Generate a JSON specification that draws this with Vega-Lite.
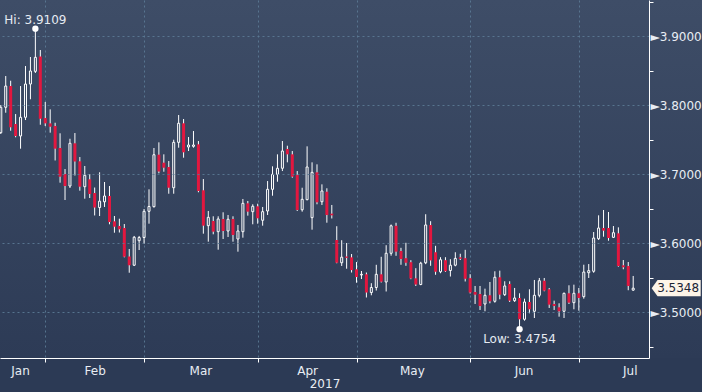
{
  "$schema": "https://vega.github.io/schema/vega-lite/v6.json",
  "width": 649,
  "height": 358,
  "autosize": "none",
  "padding": {"left": 0, "top": 0, "right": 53, "bottom": 34},
  "background": "#2c3a55",
  "config": {
    "font": "DejaVu Sans",
    "view": {"stroke": null, "fill": {"gradient": "linear", "x1": 0, "y1": 0, "x2": 0, "y2": 1, "stops": [{"offset": 0, "color": "#3e4d67"}, {"offset": 1, "color": "#2d3b56"}]}}
  },
  "datasets": {
    "ohlc": [
      {"i":0,"o":3.7602,"h":3.8003,"l":3.7583,"c":3.7970},
      {"i":1,"o":3.7970,"h":3.8423,"l":3.7891,"c":3.8278},
      {"i":2,"o":3.8278,"h":3.8355,"l":3.7630,"c":3.7680},
      {"i":3,"o":3.7728,"h":3.7872,"l":3.7535,"c":3.7554},
      {"i":4,"o":3.7554,"h":3.8278,"l":3.7370,"c":3.7825},
      {"i":5,"o":3.7825,"h":3.8568,"l":3.7785,"c":3.8307},
      {"i":6,"o":3.8307,"h":3.8699,"l":3.8086,"c":3.8496},
      {"i":7,"o":3.8491,"h":3.9109,"l":3.8467,"c":3.8694},
      {"i":8,"o":3.8706,"h":3.8800,"l":3.7717,"c":3.7804},
      {"i":9,"o":3.7814,"h":3.8046,"l":3.7699,"c":3.7737},
      {"i":10,"o":3.7737,"h":3.7940,"l":3.7602,"c":3.7688},
      {"i":11,"o":3.7699,"h":3.7746,"l":3.7199,"c":3.7370},
      {"i":12,"o":3.7380,"h":3.7593,"l":3.6877,"c":3.6964},
      {"i":13,"o":3.7003,"h":3.7075,"l":3.6626,"c":3.6829},
      {"i":14,"o":3.6829,"h":3.7514,"l":3.6800,"c":3.7448},
      {"i":15,"o":3.7448,"h":3.7597,"l":3.6981,"c":3.7184},
      {"i":16,"o":3.7187,"h":3.7249,"l":3.6761,"c":3.6819},
      {"i":17,"o":3.6819,"h":3.7119,"l":3.6645,"c":3.6984},
      {"i":18,"o":3.6926,"h":3.7003,"l":3.6655,"c":3.6713},
      {"i":19,"o":3.6727,"h":3.6807,"l":3.6402,"c":3.6517},
      {"i":20,"o":3.6517,"h":3.7028,"l":3.6394,"c":3.6609},
      {"i":21,"o":3.6600,"h":3.6887,"l":3.6525,"c":3.6684},
      {"i":22,"o":3.6684,"h":3.6829,"l":3.6274,"c":3.6307},
      {"i":23,"o":3.6317,"h":3.6394,"l":3.6152,"c":3.6239},
      {"i":24,"o":3.6249,"h":3.6355,"l":3.6155,"c":3.6201},
      {"i":25,"o":3.6220,"h":3.6278,"l":3.5795,"c":3.5804},
      {"i":26,"o":3.5807,"h":3.5916,"l":3.5572,"c":3.5681},
      {"i":27,"o":3.5681,"h":3.6105,"l":3.5669,"c":3.6086},
      {"i":28,"o":3.6036,"h":3.6105,"l":3.5901,"c":3.6082},
      {"i":29,"o":3.6082,"h":3.6496,"l":3.5988,"c":3.6462},
      {"i":30,"o":3.6462,"h":3.6781,"l":3.6283,"c":3.6532},
      {"i":31,"o":3.6529,"h":3.7380,"l":3.6517,"c":3.7282},
      {"i":32,"o":3.7283,"h":3.7462,"l":3.7013,"c":3.7039},
      {"i":33,"o":3.7167,"h":3.7288,"l":3.7036,"c":3.7094},
      {"i":34,"o":3.7104,"h":3.7191,"l":3.6717,"c":3.6804},
      {"i":35,"o":3.6804,"h":3.7500,"l":3.6717,"c":3.7462},
      {"i":36,"o":3.7462,"h":3.7858,"l":3.7384,"c":3.7738},
      {"i":37,"o":3.7738,"h":3.7800,"l":3.7239,"c":3.7317},
      {"i":38,"o":3.7394,"h":3.7539,"l":3.7336,"c":3.7423},
      {"i":39,"o":3.7404,"h":3.7626,"l":3.7384,"c":3.7423},
      {"i":40,"o":3.7433,"h":3.7481,"l":3.6738,"c":3.6757},
      {"i":41,"o":3.6767,"h":3.6930,"l":3.6138,"c":3.6254},
      {"i":42,"o":3.6254,"h":3.6467,"l":3.6022,"c":3.6375},
      {"i":43,"o":3.6322,"h":3.6390,"l":3.6129,"c":3.6167},
      {"i":44,"o":3.6167,"h":3.6390,"l":3.5906,"c":3.6351},
      {"i":45,"o":3.6351,"h":3.6448,"l":3.6061,"c":3.6177},
      {"i":46,"o":3.6177,"h":3.6409,"l":3.6090,"c":3.6347},
      {"i":47,"o":3.6351,"h":3.6390,"l":3.6022,"c":3.6119},
      {"i":48,"o":3.6061,"h":3.6264,"l":3.5877,"c":3.6177},
      {"i":49,"o":3.6167,"h":3.6641,"l":3.6080,"c":3.6578},
      {"i":50,"o":3.6578,"h":3.6612,"l":3.6399,"c":3.6457},
      {"i":51,"o":3.6457,"h":3.6564,"l":3.6274,"c":3.6535},
      {"i":52,"o":3.6535,"h":3.6572,"l":3.6283,"c":3.6361},
      {"i":53,"o":3.6332,"h":3.6525,"l":3.6254,"c":3.6457},
      {"i":54,"o":3.6467,"h":3.6901,"l":3.6409,"c":3.6781},
      {"i":55,"o":3.6781,"h":3.7114,"l":3.6688,"c":3.6998},
      {"i":56,"o":3.6998,"h":3.7288,"l":3.6891,"c":3.7086},
      {"i":57,"o":3.7086,"h":3.7481,"l":3.7046,"c":3.7336},
      {"i":58,"o":3.7365,"h":3.7413,"l":3.7172,"c":3.7288},
      {"i":59,"o":3.7288,"h":3.7336,"l":3.6949,"c":3.6964},
      {"i":60,"o":3.6988,"h":3.7046,"l":3.6467,"c":3.6481},
      {"i":61,"o":3.6485,"h":3.6804,"l":3.6457,"c":3.6636},
      {"i":62,"o":3.6631,"h":3.7404,"l":3.6622,"c":3.7104},
      {"i":63,"o":3.6370,"h":3.7172,"l":3.6196,"c":3.7027},
      {"i":64,"o":3.7027,"h":3.7143,"l":3.6564,"c":3.6593},
      {"i":65,"o":3.6601,"h":3.6853,"l":3.6554,"c":3.6757},
      {"i":66,"o":3.6746,"h":3.6796,"l":3.6297,"c":3.6409},
      {"i":67,"o":3.6428,"h":3.6554,"l":3.6358,"c":3.6404},
      {"i":68,"o":3.6046,"h":3.6246,"l":3.5709,"c":3.5717},
      {"i":69,"o":3.5717,"h":3.6043,"l":3.5670,"c":3.5797},
      {"i":70,"o":3.5807,"h":3.6003,"l":3.5630,"c":3.5788},
      {"i":71,"o":3.5795,"h":3.5843,"l":3.5575,"c":3.5611},
      {"i":72,"o":3.5622,"h":3.5727,"l":3.5427,"c":3.5510},
      {"i":73,"o":3.5539,"h":3.5597,"l":3.5481,"c":3.5549},
      {"i":74,"o":3.5549,"h":3.5575,"l":3.5213,"c":3.5285},
      {"i":75,"o":3.5285,"h":3.5420,"l":3.5245,"c":3.5358},
      {"i":76,"o":3.5358,"h":3.5687,"l":3.5314,"c":3.5549},
      {"i":77,"o":3.5549,"h":3.5803,"l":3.5430,"c":3.5442},
      {"i":78,"o":3.5438,"h":3.5971,"l":3.5300,"c":3.5854},
      {"i":79,"o":3.5854,"h":3.6271,"l":3.5819,"c":3.6252},
      {"i":80,"o":3.6252,"h":3.6296,"l":3.5817,"c":3.5877},
      {"i":81,"o":3.5887,"h":3.5933,"l":3.5687,"c":3.5771},
      {"i":82,"o":3.5783,"h":3.6006,"l":3.5672,"c":3.5716},
      {"i":83,"o":3.5725,"h":3.5754,"l":3.5478,"c":3.5489},
      {"i":84,"o":3.5491,"h":3.5638,"l":3.5380,"c":3.5401},
      {"i":85,"o":3.5401,"h":3.5730,"l":3.5391,"c":3.5710},
      {"i":86,"o":3.5716,"h":3.6420,"l":3.5696,"c":3.6264},
      {"i":87,"o":3.6263,"h":3.6319,"l":3.5672,"c":3.5750},
      {"i":88,"o":3.5869,"h":3.5962,"l":3.5542,"c":3.5586},
      {"i":89,"o":3.5586,"h":3.5797,"l":3.5565,"c":3.5760},
      {"i":90,"o":3.5754,"h":3.5797,"l":3.5583,"c":3.5594},
      {"i":91,"o":3.5604,"h":3.5768,"l":3.5517,"c":3.5681},
      {"i":92,"o":3.5681,"h":3.5869,"l":3.5665,"c":3.5780},
      {"i":93,"o":3.5795,"h":3.5847,"l":3.5756,"c":3.5774},
      {"i":94,"o":3.5783,"h":3.5904,"l":3.5445,"c":3.5484},
      {"i":95,"o":3.5493,"h":3.5551,"l":3.5271,"c":3.5285},
      {"i":96,"o":3.5293,"h":3.5380,"l":3.5119,"c":3.5254},
      {"i":97,"o":3.5264,"h":3.5380,"l":3.5032,"c":3.5090},
      {"i":98,"o":3.5119,"h":3.5341,"l":3.5013,"c":3.5245},
      {"i":99,"o":3.5245,"h":3.5438,"l":3.5129,"c":3.5158},
      {"i":100,"o":3.5158,"h":3.5593,"l":3.5138,"c":3.5506},
      {"i":101,"o":3.5506,"h":3.5602,"l":3.5187,"c":3.5254},
      {"i":102,"o":3.5254,"h":3.5448,"l":3.5235,"c":3.5380},
      {"i":103,"o":3.5409,"h":3.5448,"l":3.5148,"c":3.5167},
      {"i":104,"o":3.5167,"h":3.5351,"l":3.5148,"c":3.5206},
      {"i":105,"o":3.5206,"h":3.5274,"l":3.4754,"c":3.4897},
      {"i":106,"o":3.4897,"h":3.5196,"l":3.4877,"c":3.5148},
      {"i":107,"o":3.5148,"h":3.5332,"l":3.4984,"c":3.5042},
      {"i":108,"o":3.5013,"h":3.5467,"l":3.4916,"c":3.5245},
      {"i":109,"o":3.5245,"h":3.5496,"l":3.5216,"c":3.5456},
      {"i":110,"o":3.5456,"h":3.5496,"l":3.5303,"c":3.5312},
      {"i":111,"o":3.5332,"h":3.5351,"l":3.5061,"c":3.5109},
      {"i":112,"o":3.5119,"h":3.5167,"l":3.5032,"c":3.5090},
      {"i":113,"o":3.5071,"h":3.5129,"l":3.4935,"c":3.5013},
      {"i":114,"o":3.5013,"h":3.5283,"l":3.4916,"c":3.5274},
      {"i":115,"o":3.5274,"h":3.5390,"l":3.5119,"c":3.5138},
      {"i":116,"o":3.5138,"h":3.5399,"l":3.5042,"c":3.5274},
      {"i":117,"o":3.5274,"h":3.5351,"l":3.5022,"c":3.5206},
      {"i":118,"o":3.5225,"h":3.5688,"l":3.5196,"c":3.5582},
      {"i":119,"o":3.5572,"h":3.5698,"l":3.5496,"c":3.5602},
      {"i":120,"o":3.5593,"h":3.6162,"l":3.5572,"c":3.6075},
      {"i":121,"o":3.6065,"h":3.6404,"l":3.6046,"c":3.6220},
      {"i":122,"o":3.6220,"h":3.6481,"l":3.6094,"c":3.6181},
      {"i":123,"o":3.6220,"h":3.6452,"l":3.6036,"c":3.6075},
      {"i":124,"o":3.6085,"h":3.6249,"l":3.6075,"c":3.6152},
      {"i":125,"o":3.6143,"h":3.6230,"l":3.5659,"c":3.5669},
      {"i":126,"o":3.5680,"h":3.5756,"l":3.5622,"c":3.5651},
      {"i":127,"o":3.5669,"h":3.5727,"l":3.5318,"c":3.5380},
      {"i":128,"o":3.5320,"h":3.5525,"l":3.5310,"c":3.5348}
    ],
    "extremes": [
      {"i": 7, "v": 3.9109, "ty": 3.9235, "label": "Hi: 3.9109"},
      {"i": 105, "v": 3.4754, "ty": 3.4607, "label": "Low: 3.4754"}
    ],
    "last": [
      {"i": 136.7, "ti": 137.1, "v": 3.5348, "label": "3.5348"}
    ]
  },
  "layer": [
    {
      "data": {"values": [{}]},
      "mark": {"type": "rect", "color": {"gradient": "linear", "x1": 0, "y1": 0, "x2": 0, "y2": 1, "stops": [{"offset": 0, "color": "#3e4d67"}, {"offset": 1, "color": "#2d3b56"}]}},
      "encoding": {
        "x": {
          "datum": 131.2, "type": "quantitative",
          "scale": {"domain": [-0.16, 131.2], "nice": false, "zero": false, "padding": 0},
          "axis": {
            "orient": "bottom",
            "title": "2017",
            "titleColor": "#e8edf3",
            "titleFontWeight": "normal",
            "titleFontSize": 12,
            "titlePadding": 2,
            "tickCount": 40,
            "values": [3.9, 9, 19, 29, 40.4, 52, 62, 72, 83.2, 95, 105.8, 117, 127.3],
            "labelExpr": "datum.value == 3.9 ? 'Jan' : datum.value == 19 ? 'Feb' : datum.value == 40.4 ? 'Mar' : datum.value == 62 ? 'Apr' : datum.value == 83.2 ? 'May' : datum.value == 105.8 ? 'Jun' : datum.value == 127.3 ? 'Jul' : ''",
            "labelColor": "#e8edf3",
            "labelFontSize": 12,
            "labelPadding": 3,
            "labelOverlap": false,
            "labelFlush": false,
            "domainColor": "#ffffff",
            "domainWidth": 1,
            "tickColor": "#ffffff",
            "tickSize": 4,
            "tickOpacity": {"condition": {"test": "indexof([9,29,52,72,95,117], datum.value) >= 0", "value": 1}, "value": 0},
            "grid": true,
            "gridColor": "#5b7a95",
            "gridDash": [2, 3],
            "gridWidth": 1,
            "gridOpacity": {"condition": {"test": "indexof([9,29,52,72,95,117], datum.value) >= 0", "value": 0.9}, "value": 0}
          }
        },
        "x2": {"datum": 142},
        "y": {
          "datum": 3.9525, "type": "quantitative",
          "scale": {"domain": [3.4336, 3.9525], "nice": false, "zero": false, "padding": 0},
          "axis": {
            "orient": "right",
            "title": null,
            "zindex": 1,
            "tickCount": 40,
            "values": [3.45, 3.5, 3.55, 3.6, 3.65, 3.7, 3.75, 3.8, 3.85, 3.9, 3.95],
            "labelExpr": "indexof([3.5, 3.6, 3.7, 3.8, 3.9], datum.value) >= 0 ? '►' + format(datum.value, '.4f') : ''",
            "labelColor": "#e8edf3",
            "labelFontSize": 12,
            "labelPadding": -3,
            "labelOverlap": false,
            "labelFlush": false,
            "domainColor": "#ffffff",
            "domainWidth": 1,
            "tickColor": "#ffffff",
            "tickSize": 4,
            "tickOpacity": {"condition": {"test": "indexof([3.5, 3.6, 3.7, 3.8, 3.9], datum.value) >= 0", "value": 0}, "value": 1},
            "grid": true,
            "gridColor": "#5b7a95",
            "gridDash": [2, 3],
            "gridWidth": 1,
            "gridOpacity": {"condition": {"test": "indexof([3.5, 3.6, 3.7, 3.8, 3.9], datum.value) >= 0", "value": 0.9}, "value": 0}
          }
        },
        "y2": {"datum": 3.4336}
      }
    },
    {
      "data": {"name": "ohlc"},
      "transform": [{"filter": "datum.c >= datum.o"}],
      "mark": {"type": "rule", "color": "#ffffff", "strokeWidth": 1},
      "encoding": {
        "x": {"field": "i", "type": "quantitative", "scale": {"domain": [-0.16, 131.2], "nice": false, "zero": false, "padding": 0}},
        "y": {"field": "h", "type": "quantitative", "title": null, "scale": {"domain": [3.4336, 3.9525], "nice": false, "zero": false, "padding": 0}},
        "y2": {"field": "c"}
      }
    },
    {
      "data": {"name": "ohlc"},
      "transform": [{"filter": "datum.c >= datum.o"}],
      "mark": {"type": "rule", "color": "#ffffff", "strokeWidth": 1},
      "encoding": {
        "x": {"field": "i", "type": "quantitative", "scale": {"domain": [-0.16, 131.2], "nice": false, "zero": false, "padding": 0}},
        "y": {"field": "o", "type": "quantitative", "title": null, "scale": {"domain": [3.4336, 3.9525], "nice": false, "zero": false, "padding": 0}},
        "y2": {"field": "l"}
      }
    },
    {
      "data": {"name": "ohlc"},
      "transform": [{"filter": "datum.c < datum.o"}],
      "mark": {"type": "rule", "color": "#ffffff", "strokeWidth": 1},
      "encoding": {
        "x": {"field": "i", "type": "quantitative", "scale": {"domain": [-0.16, 131.2], "nice": false, "zero": false, "padding": 0}},
        "y": {"field": "h", "type": "quantitative", "title": null, "scale": {"domain": [3.4336, 3.9525], "nice": false, "zero": false, "padding": 0}},
        "y2": {"field": "l"}
      }
    },
    {
      "data": {"name": "ohlc"},
      "transform": [{"filter": "datum.c >= datum.o"}],
      "mark": {"type": "bar", "width": 2, "fill": "#34435e", "fillOpacity": 0, "stroke": "#ffffff", "strokeWidth": 1},
      "encoding": {
        "x": {"field": "i", "type": "quantitative", "scale": {"domain": [-0.16, 131.2], "nice": false, "zero": false, "padding": 0}},
        "y": {"field": "o", "type": "quantitative", "title": null, "scale": {"domain": [3.4336, 3.9525], "nice": false, "zero": false, "padding": 0}},
        "y2": {"field": "c"}
      }
    },
    {
      "data": {"name": "ohlc"},
      "transform": [{"filter": "datum.c < datum.o"}],
      "mark": {"type": "bar", "width": 3, "color": "#e2173f"},
      "encoding": {
        "x": {"field": "i", "type": "quantitative", "scale": {"domain": [-0.16, 131.2], "nice": false, "zero": false, "padding": 0}},
        "y": {"field": "o", "type": "quantitative", "title": null, "scale": {"domain": [3.4336, 3.9525], "nice": false, "zero": false, "padding": 0}},
        "y2": {"field": "c"}
      }
    },
    {
      "data": {"name": "extremes"},
      "mark": {"type": "point", "filled": true, "color": "#ffffff", "size": 40, "opacity": 1},
      "encoding": {
        "x": {"field": "i", "type": "quantitative", "scale": {"domain": [-0.16, 131.2], "nice": false, "zero": false, "padding": 0}},
        "y": {"field": "v", "type": "quantitative", "title": null, "scale": {"domain": [3.4336, 3.9525], "nice": false, "zero": false, "padding": 0}}
      }
    },
    {
      "data": {"name": "extremes"},
      "mark": {"type": "text", "color": "#e6ebf2", "fontSize": 12, "align": "center", "baseline": "middle"},
      "encoding": {
        "x": {"field": "i", "type": "quantitative", "scale": {"domain": [-0.16, 131.2], "nice": false, "zero": false, "padding": 0}},
        "y": {"field": "ty", "type": "quantitative", "title": null, "scale": {"domain": [3.4336, 3.9525], "nice": false, "zero": false, "padding": 0}},
        "text": {"field": "label"}
      }
    },
    {
      "data": {"name": "last"},
      "mark": {"type": "point", "filled": true, "shape": "M-1,0L-0.76,-0.33L1,-0.33L1,0.33L-0.76,0.33Z", "size": 2401, "color": "#fdf4e8", "opacity": 1},
      "encoding": {
        "x": {"field": "i", "type": "quantitative", "scale": {"domain": [-0.16, 131.2], "nice": false, "zero": false, "padding": 0}},
        "y": {"field": "v", "type": "quantitative", "title": null, "scale": {"domain": [3.4336, 3.9525], "nice": false, "zero": false, "padding": 0}}
      }
    },
    {
      "data": {"name": "last"},
      "mark": {"type": "text", "color": "#1b2436", "fontSize": 12, "align": "center", "baseline": "middle"},
      "encoding": {
        "x": {"field": "ti", "type": "quantitative", "scale": {"domain": [-0.16, 131.2], "nice": false, "zero": false, "padding": 0}},
        "y": {"field": "v", "type": "quantitative", "title": null, "scale": {"domain": [3.4336, 3.9525], "nice": false, "zero": false, "padding": 0}},
        "text": {"field": "label"}
      }
    }
  ]
}
